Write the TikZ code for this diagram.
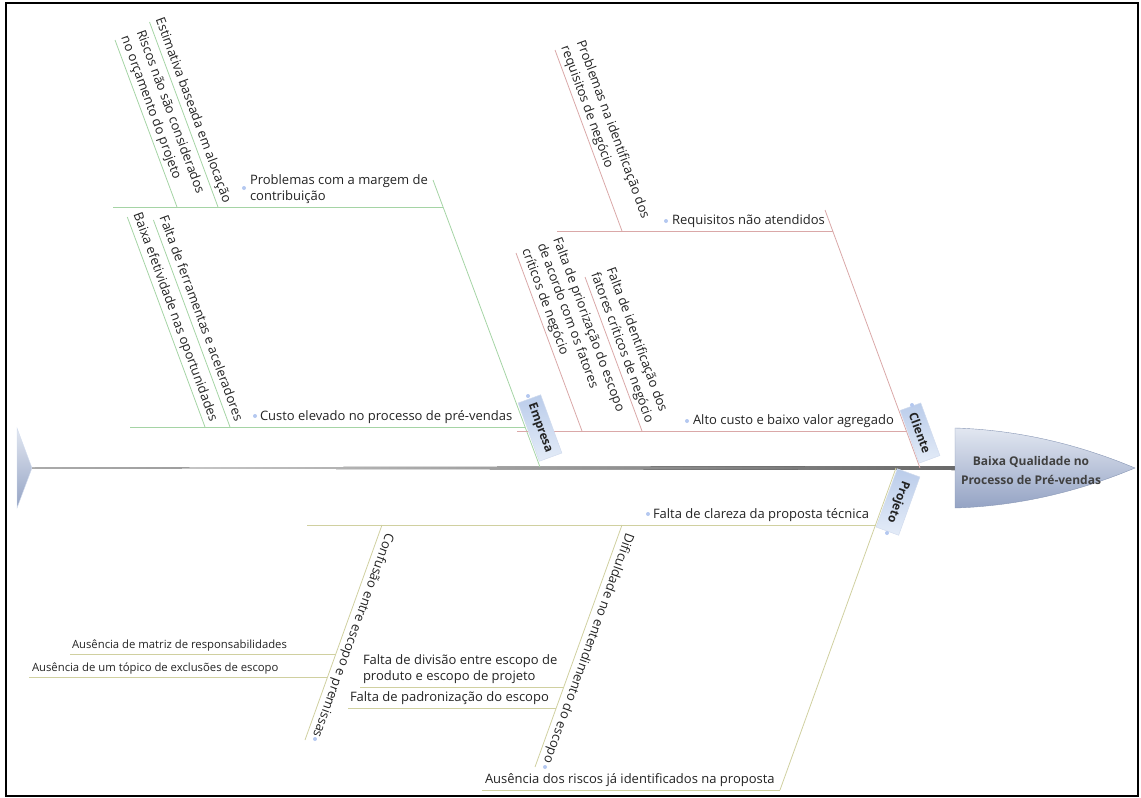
\documentclass[tikz,border=0pt]{standalone}
\usepackage{fontspec}
\setmainfont{Open Sans}
\definecolor{gline}{RGB}{165,212,165}
\definecolor{pline}{RGB}{218,168,168}
\definecolor{oline}{RGB}{208,208,160}
\definecolor{txtc}{RGB}{35,35,35}
\definecolor{bul}{RGB}{180,200,240}
\definecolor{catl}{RGB}{228,236,248}
\definecolor{catd}{RGB}{186,204,234}
\definecolor{catb}{RGB}{210,220,238}
\definecolor{headt}{RGB}{226,231,241}
\definecolor{headbt}{RGB}{148,163,196}
\definecolor{headb}{RGB}{135,150,180}
\definecolor{spl}{RGB}{215,215,215}
\definecolor{spr}{RGB}{105,105,105}
\begin{document}
\begin{tikzpicture}[x=1pt,y=-1pt,
  txt/.style={font=\fontsize{13}{16.5}\selectfont, text=txtc, inner xsep=0pt, inner ysep=3pt, text depth=3.5pt, align=left, anchor=south west, outer sep=0pt},
  smalltxt/.style={txt, font=\fontsize{11.3}{14}\selectfont, text depth=3pt},
  rtop/.style={txt, rotate=-69.7},
  rbot/.style={txt, rotate=-109.8},
  gb/.style={draw=gline, line width=0.8pt},
  pb/.style={draw=pline, line width=0.8pt},
  ob/.style={draw=oline, line width=0.8pt},
  dot/.style={circle, fill=bul, inner sep=0pt, minimum size=4pt},
  cat/.style={draw=catb, line width=0.5pt, top color=catd, bottom color=catl, font=\fontsize{12}{14}\selectfont\bfseries, text=txtc, minimum width=62pt, minimum height=24pt, inner sep=1pt},
  headtxt/.style={font=\fontsize{12}{19}\selectfont\bfseries, text={rgb,255:red,64;green,64;blue,64}, align=center}
]
\useasboundingbox (0,0) rectangle (1141,798);
\draw[line width=2pt] (6,3) rectangle (1138,796);

% tail, spine, head
\coordinate (tailtip) at (32,468);
\coordinate (headleft) at (955,468);
\path[draw=catb, top color=headt, bottom color=headbt] (17,428) -- (tailtip) -- (17,508) -- cycle;
\fill[left color=spl, right color=spr] (32,467.5) -- (955,466) -- (955,470) -- (32,468.5) -- cycle;
\path[draw=headb, top color=headt, bottom color=headbt] (955,428) .. controls (1020,430) and (1080,445) .. (1135,468) .. controls (1080,491) and (1020,506) .. (955,508) -- cycle;
\node[headtxt] (head) at (1031,470) {Baixa Qualidade no\\Processo de Pré-vendas};

% ---------- Empresa ----------
\coordinate (eT) at (433,180); \coordinate (eB) at (540,467);
\draw[gb] (eT) -- (eB);
\coordinate (e1L) at (113,207); \coordinate (e1R) at (443,207);
\draw[gb] (e1L) -- (e1R);
\coordinate (e1aT) at (149.5,22); \coordinate (e1aB) at (218,207);
\coordinate (e1bT) at (115,40); \coordinate (e1bB) at (177,207);
\draw[gb] (e1aT) -- (e1aB);
\draw[gb] (e1bT) -- (e1bB);
\node[txt] (e1) at (250,207) {Problemas com a margem de\\contribuição};
\node[dot] (de1) at (244,188) {};
\node[rtop] (e1a) at (e1aT) {Estimativa baseada em alocação};
\node[rtop] (e1b) at (e1bT) {Riscos não são considerados\\no orçamento do projeto};

\coordinate (e2L) at (130,427); \coordinate (e2R) at (525,427);
\draw[gb] (e2L) -- (e2R);
\coordinate (e2aT) at (153.4,220); \coordinate (e2aB) at (230,427);
\coordinate (e2bT) at (127.3,217); \coordinate (e2bB) at (205,427);
\draw[gb] (e2aT) -- (e2aB);
\draw[gb] (e2bT) -- (e2bB);
\node[txt] (e2) at (260,427) {Custo elevado no processo de pré-vendas};
\node[dot] (de2) at (255,416) {};
\node[rtop] (e2a) at (e2aT) {Falta de ferramentas e aceleradores};
\node[rtop] (e2b) at (e2bT) {Baixa efetividade nas oportunidades};

% ---------- Cliente ----------
\coordinate (cT) at (825,210); \coordinate (cB) at (920,468);
\draw[pb] (cT) -- (cB);
\coordinate (c1L) at (557,231); \coordinate (c1R) at (833,231);
\draw[pb] (c1L) -- (c1R);
\coordinate (c1aT) at (555,50); \coordinate (c1aB) at (622,231);
\draw[pb] (c1aT) -- (c1aB);
\node[txt] (c1) at (672,231) {Requisitos não atendidos};
\node[dot] (dc1) at (666,221) {};
\node[rtop] (c1a) at (c1aT) {Problemas na identificação dos\\requisitos de negócio};

\coordinate (c2L) at (517,431); \coordinate (c2R) at (906,431);
\draw[pb] (c2L) -- (c2R);
\coordinate (c2aT) at (585,277); \coordinate (c2aB) at (642,431);
\coordinate (c2bT) at (516,253); \coordinate (c2bB) at (582,431);
\draw[pb] (c2aT) -- (c2aB);
\draw[pb] (c2bT) -- (c2bB);
\node[txt] (c2) at (693,431) {Alto custo e baixo valor agregado};
\node[dot] (dc2) at (687,421) {};
\node[rtop] (c2a) at (c2aT) {Falta de identificação dos\\fatores críticos de negócio};
\node[rtop] (c2b) at (c2bT) {Falta de priorização do escopo\\de acordo com os fatores\\críticos de negócio};

% ---------- Projeto ----------
\coordinate (pT) at (896,468); \coordinate (pB) at (780,790);
\draw[ob] (pT) -- (pB);
\coordinate (p1L) at (307,525); \coordinate (p1R) at (875.5,525);
\draw[ob] (p1L) -- (p1R);
\node[txt] (p1) at (653,525) {Falta de clareza da proposta técnica};
\node[dot] (dp1) at (648,514) {};
\coordinate (p2L) at (482,790); \coordinate (p2R) at (780,790);
\draw[ob] (p2L) -- (p2R);
\node[txt] (p2) at (485,790) {Ausência dos riscos já identificados na proposta};

\coordinate (p1aT) at (382,525); \coordinate (p1aB) at (305,740);
\draw[ob] (p1aT) -- (p1aB);
\coordinate (p1aS) at (380,530.6);
\node[rbot] (p1a) at (p1aS) {Confusão entre escopo e premissas};
\node[dot] (dp1a) at (315,739) {};

\coordinate (p1bT) at (622,525); \coordinate (p1bB) at (535,767);
\draw[ob] (p1bT) -- (p1bB);
\coordinate (p1bS) at (620,530.6);
\node[rbot] (p1b) at (p1bS) {Dificuldade no entendimento do escopo};
\node[dot] (dp1b) at (545,767) {};

\coordinate (p1a1L) at (70,654); \coordinate (p1a1R) at (335.6,654);
\draw[ob] (p1a1L) -- (p1a1R);
\node[smalltxt] (p1a1) at (72,654) {Ausência de matriz de responsabilidades};
\coordinate (p1a2L) at (29,677); \coordinate (p1a2R) at (327,677);
\draw[ob] (p1a2L) -- (p1a2R);
\node[smalltxt] (p1a2) at (32,677) {Ausência de um tópico de exclusões de escopo};

\coordinate (p1b1L) at (360,687); \coordinate (p1b1R) at (563.7,687);
\draw[ob] (p1b1L) -- (p1b1R);
\node[txt] (p1b1) at (363,687) {Falta de divisão entre escopo de\\produto e escopo de projeto};
\coordinate (p1b2L) at (348,708); \coordinate (p1b2R) at (556,708);
\draw[ob] (p1b2L) -- (p1b2R);
\node[txt] (p1b2) at (350,708) {Falta de padronização do escopo};

% ---------- category labels ----------
\node[cat, rotate=-70] (emp) at (540,428) {Empresa};
\node[dot] (demp) at (528,396) {};
\node[cat, rotate=-70, minimum width=56pt, minimum height=22pt] (cli) at (920,433) {Cliente};
\node[dot] (dcli) at (912,405) {};
\node[cat, rotate=-110] (pro) at (898,502) {Projeto};
\node[dot] (dpro) at (887,533) {};
\end{tikzpicture}
\end{document}
